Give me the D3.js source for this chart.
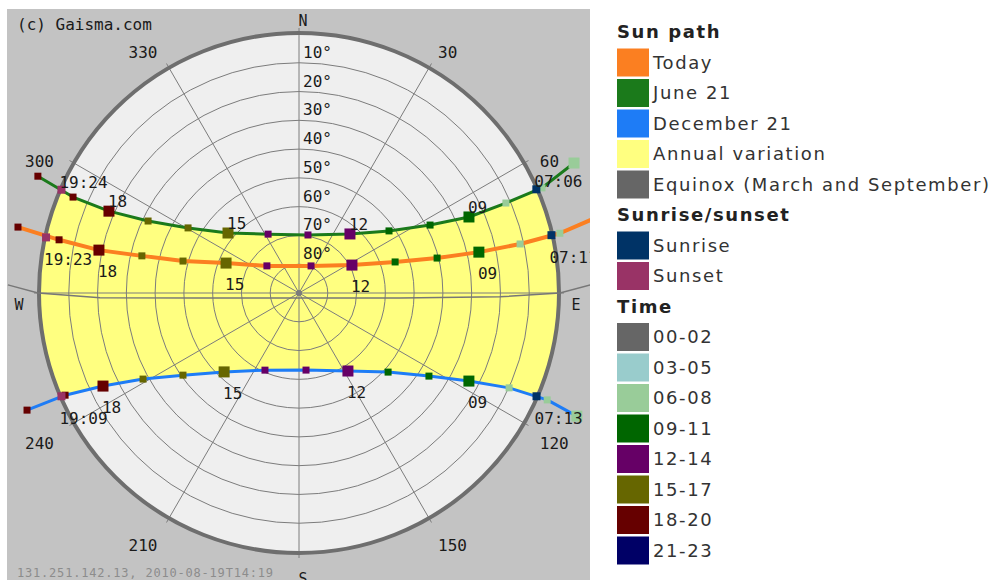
<!DOCTYPE html>
<html><head><meta charset="utf-8">
<script src="https://cdn.jsdelivr.net/npm/d3@7"></script>
<style>body{margin:0;background:#fff;} svg{display:block}</style>
</head><body><svg id="chart" width="998" height="580"></svg>
<script>
// ---------- data ----------
const hours = [6,7,8,9,10,11,12,13,14,15,16,17,18,19,20];
const seriesNames = ["Today","June 21","December 21"];
const seriesColors = ["#fb7f21","#1b7a1b","#1e7cf6"];
const todayAz  = [75.5,77.1,77.5,77.2,75.8,72.1,62.2,24.0,310.2,292.3,285.4,283.3,282.1,282.5,283.2];
const todayAlt = [-19.5,-3.0,11.3,25.9,40.5,54.9,69.2,79.7,75.4,62.6,48.2,33.9,18.9,4.6,-10.3];
const juneAz   = [64.7,66.6,66.5,65.9,62.6,55.4,40.8,8.8,332.3,310.2,300.4,295.5,293.3,293.0,294.1];
const juneAlt  = [-15.7,-2.0,11.6,25.3,38.7,52.0,62.9,69.6,66.9,57.7,45.3,31.9,18.1,4.7,-9.4];
const decAz    = [113.9,113.3,114.3,117.4,122.6,131.6,147.9,174.8,203.8,223.5,234.7,241.1,244.6,246.4,246.7];
const decAlt   = [-15.6,-3.9,9.9,23.5,36.4,48.6,58.0,63.1,60.7,52.2,40.6,28.1,14.6,1.3,-12.9];
const equinoxAz  = [88.4,90,91.1,92.8,180,267.1,268.6,270,271.6];
const equinoxAlt = [-11.2,-0.7,20.2,54.9,88.3,55.6,20.8,-0.7,-11.2];
const sunriseTimes = ["07:11","07:06","07:13"];
const sunriseAz    = [77.1,66.4,113.5];
const sunsetTimes  = ["19:23","19:24","19:09"];
const sunsetAz     = [282.4,293.5,246.5];
const labelHours = [9,12,15,18];
const altTicks = [10,20,30,40,50,60,70,80];
const azTicks = [30,60,120,150,210,240,300,330];
const cardinalNames = ["N","E","S","W"];
const cardinalAz = [0,90,180,270];
const timeBins = ["00-02","03-05","06-08","09-11","12-14","15-17","18-20","21-23"];
const timeColors = ["#666666","#99cccc","#99cc99","#006600","#660066","#666600","#660000","#000066"];
const sunPathLabels = ["Today","June 21","December 21","Annual variation","Equinox (March and September)"];
const sunPathColors = ["#fb7f21","#1b7a1b","#1e7cf6","#ffff80","#666666"];
const eventLabels = ["Sunrise","Sunset"];
const eventColors = ["#003366","#993366"];
const legendTitles = ["Sun path","Sunrise/sunset","Time"];
const copyright = "(c) Gaisma.com";
const footer = "131.251.142.13, 2010-08-19T14:19";

// ---------- layout ----------
const svg = d3.select("#chart");
const cx = 299, cy = 293, R = 259;
const rScale = d3.scaleLinear().domain([90, 0]).range([0, R]);
const timeColor = d3.scaleThreshold().domain([3,6,9,12,15,18,21]).range(timeColors);
const proj = (az, alt) => { const r = rScale(alt), a = az * Math.PI / 180; return [cx + r * Math.sin(a), cy - r * Math.cos(a)]; };
const mono = "'DejaVu Sans Mono', monospace";

const defs = svg.append("defs");
defs.append("clipPath").attr("id","panel").append("rect").attr("x",7).attr("y",9).attr("width",583).attr("height",571);
defs.append("clipPath").attr("id","disc").append("circle").attr("cx",cx).attr("cy",cy).attr("r",R);

const g = svg.append("g").attr("clip-path","url(#panel)");
g.append("rect").attr("x",7).attr("y",9).attr("width",583).attr("height",571).attr("fill","#c3c3c3");
g.append("circle").attr("cx",cx).attr("cy",cy).attr("r",R).attr("fill","#efefef");

// annual variation band
const series = [
  {az: todayAz, alt: todayAlt, side: "below", width: 4},
  {az: juneAz, alt: juneAlt, side: "above", width: 3},
  {az: decAz, alt: decAlt, side: "below", width: 3}
];
series.forEach((s,i) => { s.color = seriesColors[i]; s.pts = hours.map((h,j) => ({h, p: proj(s.az[j], s.alt[j])})); });
const band = series[1].pts.map(d => d.p).concat(series[2].pts.map(d => d.p).reverse());
g.append("path").attr("clip-path","url(#disc)")
  .attr("d", d3.line().curve(d3.curveLinearClosed)(band)).attr("fill","#ffff80");

// grid
const grid = g.append("g").attr("stroke","#7c7c7c").attr("stroke-width",1).attr("fill","none");
altTicks.forEach(a => grid.append("circle").attr("cx",cx).attr("cy",cy).attr("r",rScale(a)));
const tickAlt = rScale.invert(R + 6);
d3.range(0,360,30).forEach(az => {
  const e = proj(az, tickAlt);
  grid.append("line").attr("x1",cx).attr("y1",cy).attr("x2",e[0]).attr("y2",e[1]);
});
g.append("circle").attr("cx",cx).attr("cy",cy).attr("r",3).attr("fill","#7c7c7c");
g.append("circle").attr("cx",cx).attr("cy",cy).attr("r",R+1).attr("fill","none").attr("stroke","#6e6e6e").attr("stroke-width",4);

// equinox
g.append("path").attr("d", d3.line()(equinoxAz.map((a,i) => proj(a, equinoxAlt[i]))))
  .attr("fill","none").attr("stroke","#777").attr("stroke-width",1.5);

// paths
series.forEach(s => {
  g.append("path").attr("d", d3.line()(s.pts.map(d => d.p))).attr("fill","none")
    .attr("stroke", s.color).attr("stroke-width", s.width).attr("stroke-linejoin","round");
});
// markers
series.forEach((s,i) => {
  s.pts.forEach(d => {
    const sz = d.h % 3 === 0 ? 11 : 7;
    g.append("rect").attr("x", d.p[0]-sz/2).attr("y", d.p[1]-sz/2).attr("width",sz).attr("height",sz).attr("fill", timeColor(d.h));
  });
  [[sunriseAz[i], eventColors[0], sunriseTimes[i]],[sunsetAz[i], eventColors[1], sunsetTimes[i]]].forEach(([az,col,t]) => {
    const p = proj(az, 0);
    g.append("rect").attr("x",p[0]-4).attr("y",p[1]-4).attr("width",8).attr("height",8).attr("fill",col);
    s.ev = s.ev || []; s.ev.push({p,t});
  });
});

// text
const txt = g.append("g").attr("font-family", mono).attr("font-size", 16).attr("fill","#1a1a1a");
altTicks.forEach(a => txt.append("text").attr("x",cx+4).attr("y",cy-rScale(a)-5).text(a + "°"));
azTicks.forEach(az => {
  const e = proj(az, tickAlt), s = Math.sin(az*Math.PI/180), c = Math.cos(az*Math.PI/180);
  const dx = s > 0 ? 13*s : 18*s;
  const dy = c > 0.7 ? -6 : c > 0 ? 6.5 : c > -0.7 ? 23.5 : 28.5;
  txt.append("text").attr("x", e[0]+dx).attr("y", e[1]+dy).attr("text-anchor", s > 0 ? "start" : "end").text(az);
});
cardinalNames.forEach((n,i) => {
  const az = cardinalAz[i], e = proj(az, tickAlt), s = Math.sin(az*Math.PI/180), c = Math.cos(az*Math.PI/180);
  const x = e[0] + (s > 0.5 ? 12 : s < -0.5 ? -15 : 4);
  const y = c > 0.5 ? e[1] - 2 : c < -0.5 ? e[1] + 26 : e[1] + 17;
  txt.append("text").attr("x", x).attr("y", y).attr("text-anchor","middle").attr("font-size",15).text(n);
});
series.forEach(s => {
  s.pts.filter(d => labelHours.includes(d.h)).forEach(d => {
    txt.append("text").attr("x", d.p[0]-1).attr("y", s.side === "above" ? d.p[1]-4 : d.p[1]+27).text(d3.format("02d")(d.h));
  });
  s.ev.forEach(e => {
    txt.append("text").attr("x", e.p[0]-2).attr("y", s.side === "above" ? e.p[1]-2 : e.p[1]+28).text(e.t);
  });
});
txt.append("text").attr("x",17).attr("y",30).text(copyright);
txt.append("text").attr("x",17).attr("y",577).attr("font-size",12).attr("letter-spacing",0.8).attr("fill","#8c8c8c").text(footer);

// legend
const lg = svg.append("g").attr("font-family","'DejaVu Sans', Verdana, sans-serif").attr("font-size",18).attr("letter-spacing",1.6);
const rows = [];
rows.push({title: legendTitles[0]});
sunPathLabels.forEach((l,i) => rows.push({label:l, color:sunPathColors[i]}));
rows.push({title: legendTitles[1]});
eventLabels.forEach((l,i) => rows.push({label:l, color:eventColors[i]}));
rows.push({title: legendTitles[2]});
timeBins.forEach((l,i) => rows.push({label:l, color:timeColors[i]}));
const rowY = d3.scaleLinear().domain([0,1]).range([32, 62.5]);
rows.forEach((r,i) => {
  const y = rowY(i);
  if (r.title) {
    lg.append("text").attr("x",617).attr("y",y+6).attr("font-weight","bold").attr("fill","#222").text(r.title);
  } else {
    lg.append("rect").attr("x",617).attr("y",y-14).attr("width",32).attr("height",28).attr("fill",r.color);
    lg.append("text").attr("x",653).attr("y",y+6).attr("fill","#333").text(r.label);
  }
});
</script></body></html>
